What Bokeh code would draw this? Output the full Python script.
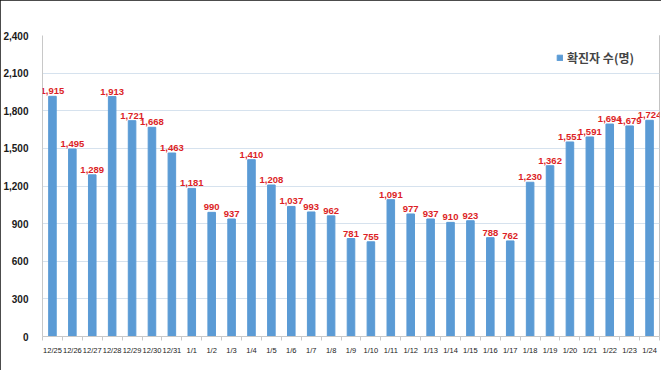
from bokeh.plotting import figure
from bokeh.models import (ColumnDataSource, FixedTicker, NumeralTickFormatter,
                          Range1d, Legend, LegendItem, LabelSet)
from bokeh.core.properties import value
from bokeh.embed import file_html
from bokeh.resources import INLINE

dates = ["12/25", "12/26", "12/27", "12/28", "12/29", "12/30", "12/31",
         "1/1", "1/2", "1/3", "1/4", "1/5", "1/6", "1/7", "1/8", "1/9", "1/10",
         "1/11", "1/12", "1/13", "1/14", "1/15", "1/16", "1/17", "1/18", "1/19",
         "1/20", "1/21", "1/22", "1/23", "1/24"]
cases = [1915, 1495, 1289, 1913, 1721, 1668, 1463, 1181, 990, 937, 1410, 1208,
         1037, 993, 962, 781, 755, 1091, 977, 937, 910, 923, 788, 762, 1230,
         1362, 1551, 1591, 1694, 1679, 1724]
y_ticks = [0, 300, 600, 900, 1200, 1500, 1800, 2100, 2400]
series_name = "확진자 수(명)"

xs = list(range(len(dates)))
src = ColumnDataSource(dict(x=xs, y=cases, label=[f"{v:,}" for v in cases]))

p = figure(width=661, height=370, output_backend="svg", toolbar_location=None,
           x_range=Range1d(-0.5, len(dates) - 0.5), y_range=Range1d(0, 2400),
           min_border_left=41, min_border_right=2, min_border_top=35,
           min_border_bottom=34)
p.styles = {"outline": "2px solid #111", "outline-offset": "-2px"}
p.outline_line_color = None
p.background_fill_color = "white"
p.border_fill_color = "white"

bars = p.vbar(x="x", top="y", width=0.38, source=src, color="#5b9bd5")
labels = LabelSet(x="x", y="y", text="label", source=src, text_align="center",
                  text_baseline="bottom", y_offset=2, text_color="#dc1f26",
                  text_font=value("Liberation Sans"), text_font_size="9.5px",
                  text_font_style="bold")
p.add_layout(labels)

p.yaxis.ticker = FixedTicker(ticks=y_ticks)
p.yaxis.formatter = NumeralTickFormatter(format="0,0")
p.yaxis.major_label_text_font = "Liberation Sans"
p.yaxis.major_label_text_font_size = "10px"
p.yaxis.major_label_text_font_style = "bold"
p.yaxis.major_label_text_color = "#1a1a1a"
p.yaxis.major_tick_line_color = None
p.yaxis.minor_tick_line_color = None
p.yaxis.axis_line_color = "#c8c8c8"
p.yaxis.major_label_standoff = 8

p.xaxis.ticker = FixedTicker(ticks=xs, minor_ticks=[i - 0.5 for i in range(len(dates) + 1)])
p.xaxis.major_label_overrides = {i: d for i, d in enumerate(dates)}
p.xaxis.major_label_text_font = "Liberation Sans"
p.xaxis.major_label_text_font_size = "7.5px"
p.xaxis.major_label_text_color = "#1a1a1a"
p.xaxis.major_tick_line_color = None
p.xaxis.minor_tick_line_color = "#c8c8c8"
p.xaxis.minor_tick_out = 4
p.xaxis.minor_tick_in = 0
p.xaxis.axis_line_color = "#c8c8c8"
p.xaxis.major_label_standoff = 3

p.xgrid.grid_line_color = None
p.ygrid.ticker = FixedTicker(ticks=y_ticks)
p.ygrid.grid_line_color = "#d6e2ee"

legend = Legend(items=[LegendItem(label=series_name, renderers=[bars])],
                location=(514, 270), border_line_color=None,
                background_fill_alpha=0, label_text_font="Noto Sans CJK KR",
                label_text_font_size="12px", label_text_font_style="bold",
                glyph_width=7, glyph_height=7, label_standoff=4, padding=2)
p.add_layout(legend, "center")

open("out.html", "w").write(file_html(p, INLINE))
